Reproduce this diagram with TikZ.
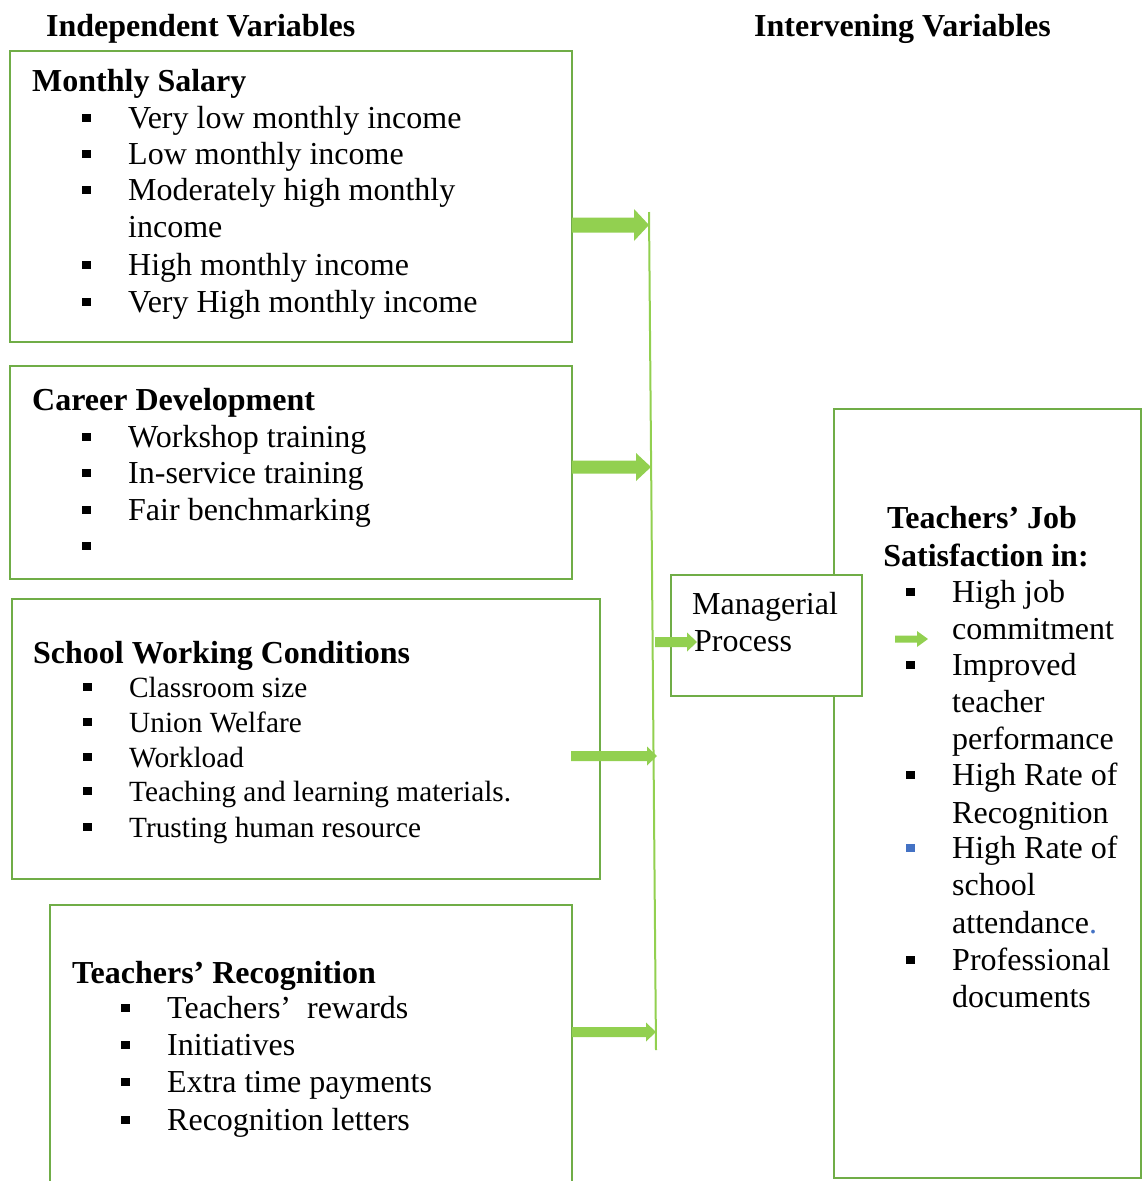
\documentclass[tikz,border=0pt]{standalone}
\usepackage{fontspec}
\setmainfont{Liberation Serif}
\usetikzlibrary{calc}

\definecolor{boxgreen}{HTML}{70AD47}
\definecolor{arrowgreen}{HTML}{92D050}
\definecolor{bulletblue}{HTML}{4472C4}

% square list bullet followed by the hanging indent
\newcommand\sqbul[1][black]{\makebox[46pt][l]{\textcolor{#1}{\rule[6pt]{8.5pt}{8pt}}}}

% horizontal block arrow: start, tip, half shaft, half head, head length
\newcommand\blockarr[5]{%
  \fill[arrowgreen] ($(#1)+(0,-#3)$) -- ($(#2)+(-#5,-#3)$) -- ($(#2)+(-#5,-#4)$)
    -- (#2) -- ($(#2)+(-#5,#4)$) -- ($(#2)+(-#5,#3)$) -- ($(#1)+(0,#3)$) -- cycle;}

\tikzset{
  frame/.style={draw=boxgreen, line width=2pt, rectangle, inner sep=0pt,
                outer sep=0pt, anchor=north west},
  txt/.style={inner sep=0pt, anchor=base west, font=\fontsize{32}{37}\selectfont},
  smalltxt/.style={inner sep=0pt, anchor=base west, font=\fontsize{29.3}{35}\selectfont},
  head/.style={inner sep=0pt, anchor=base west, font=\fontsize{32}{37}\selectfont\bfseries},
  headc/.style={inner sep=0pt, anchor=base, font=\fontsize{32}{37}\selectfont\bfseries},
  spine/.style={draw=arrowgreen, line width=2pt},
}

\begin{document}
\begin{tikzpicture}[x=1pt,y=-1pt]
\useasboundingbox (0,0) rectangle (1147,1181);

% column titles
\node[head] (indep) at (46,36) {Independent Variables};
\node[head] (interv) at (754,36) {Intervening Variables};

% frames
\node[frame, minimum width=562pt, minimum height=291pt] (ms) at (10,51) {};
\node[frame, minimum width=562pt, minimum height=213pt] (cd) at (10,366) {};
\node[frame, minimum width=588pt, minimum height=280pt] (sw) at (12,599) {};
\node[frame, minimum width=522pt, minimum height=300pt] (tr) at (50,905) {};
\node[frame, minimum width=307pt, minimum height=769pt] (js) at (834,409) {};
\node[frame, fill=white, minimum width=191pt, minimum height=121pt] (mp) at (671,575) {};

% collecting line
\coordinate (vtop) at (649,212);
\coordinate (vbot) at (656,1050);
\draw[spine] (vtop) -- (vbot);

% block arrows
\coordinate (a1s) at (572,225);  \coordinate (a1t) at (649,225);
\coordinate (a2s) at (572,467);  \coordinate (a2t) at (651,467);
\coordinate (a3s) at (571,756);  \coordinate (a3t) at (657,756);
\coordinate (a4s) at (572,1032); \coordinate (a4t) at (656,1032);
\coordinate (a5s) at (655,642);  \coordinate (a5t) at (697,642);
\coordinate (a6s) at (895,639);  \coordinate (a6t) at (928,639);
\blockarr{a1s}{a1t}{7.5}{16}{15}
\blockarr{a2s}{a2t}{6.5}{14}{15}
\blockarr{a3s}{a3t}{5}{9.5}{10}
\blockarr{a4s}{a4t}{5}{9.5}{10}
\blockarr{a5s}{a5t}{5}{9.5}{10}
\blockarr{a6s}{a6t}{3.5}{8}{11}

% Monthly Salary
\node[head] (ms0) at (32,91) {Monthly Salary};
\node[txt] (ms1) at (82,128) {\sqbul Very low monthly income};
\node[txt] (ms2) at (82,164) {\sqbul Low monthly income};
\node[txt] (ms3) at (82,200) {\sqbul Moderately high monthly};
\node[txt] (ms4) at (128,237) {income};
\node[txt] (ms5) at (82,275) {\sqbul High monthly income};
\node[txt] (ms6) at (82,312) {\sqbul Very High monthly income};

% Career Development
\node[head] (cd0) at (32,410) {Career Development};
\node[txt] (cd1) at (82,447) {\sqbul Workshop training};
\node[txt] (cd2) at (82,483) {\sqbul In-service training};
\node[txt] (cd3) at (82,520) {\sqbul Fair benchmarking};
\node[txt] (cd4) at (82,556) {\sqbul};

% School Working Conditions
\node[head] (sw0) at (33,663) {School Working Conditions};
\node[smalltxt] (sw1) at (83,697) {\sqbul Classroom size};
\node[smalltxt] (sw2) at (83,732) {\sqbul Union Welfare};
\node[smalltxt] (sw3) at (83,767) {\sqbul Workload};
\node[smalltxt] (sw4) at (83,801) {\sqbul Teaching and learning materials.};
\node[smalltxt] (sw5) at (83,837) {\sqbul Trusting human resource};

% Teachers' Recognition
\node[head] (tr0) at (72,983) {Teachers’ Recognition};
\node[txt] (tr1) at (121,1018) {\sqbul Teachers’\hspace{16pt}rewards};
\node[txt] (tr2) at (121,1055) {\sqbul Initiatives};
\node[txt] (tr3) at (121,1092) {\sqbul Extra time payments};
\node[txt] (tr4) at (121,1130) {\sqbul Recognition letters};

% Managerial Process
\node[txt] (mp1) at (692,614) {Managerial};
\node[txt] (mp2) at (694,651) {Process};

% Teachers' Job Satisfaction
\node[headc] (js0) at (982,528) {Teachers’ Job};
\node[headc] (js1) at (986,566) {Satisfaction in:};
\node[txt] (js2) at (906,602) {\sqbul High job};
\node[txt] (js3) at (952,639) {commitment};
\node[txt] (js4) at (906,675) {\sqbul Improved};
\node[txt] (js5) at (952,712) {teacher};
\node[txt] (js6) at (952,749) {performance};
\node[txt] (js7) at (906,785) {\sqbul High Rate of};
\node[txt] (js8) at (952,823) {Recognition};
\node[txt] (js9) at (906,858) {\sqbul[bulletblue]High Rate of};
\node[txt] (js10) at (952,895) {school};
\node[txt] (js11) at (952,933) {attendance\textcolor{bulletblue}{.}};
\node[txt] (js12) at (906,970) {\sqbul Professional};
\node[txt] (js13) at (952,1007) {documents};
\end{tikzpicture}
\end{document}
